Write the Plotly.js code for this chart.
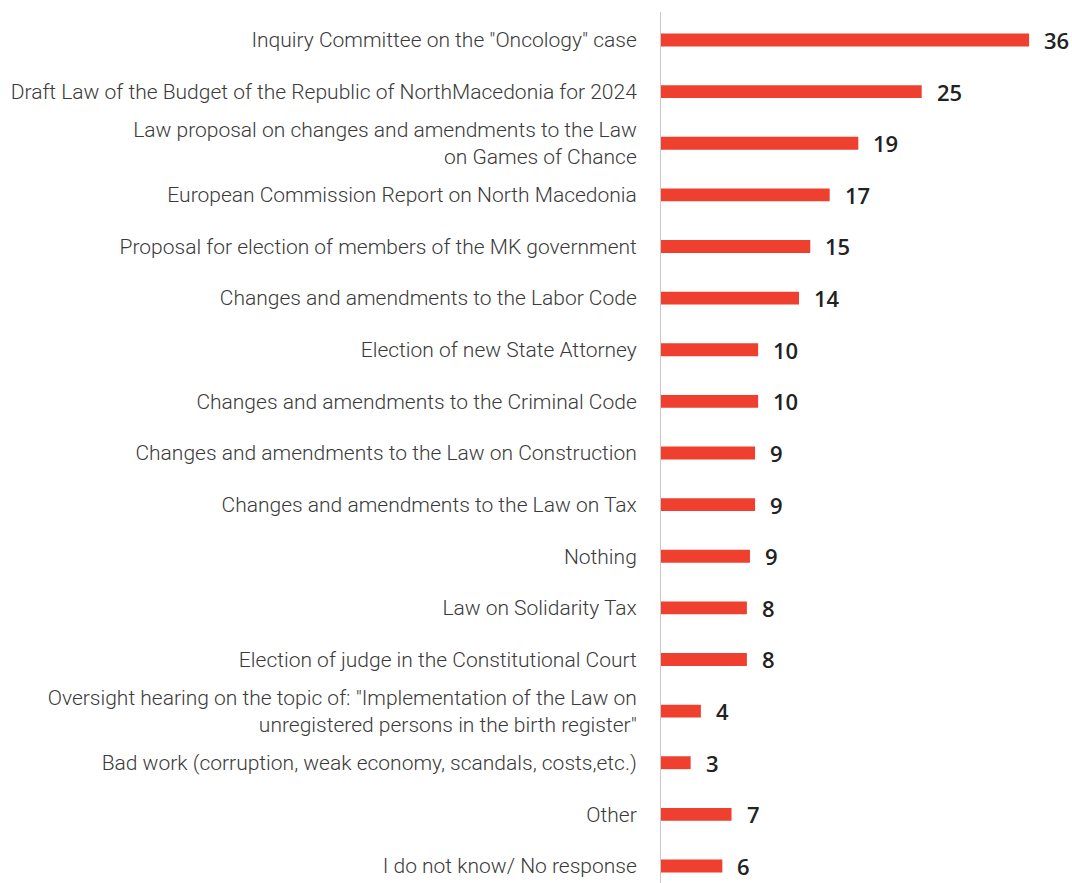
<!DOCTYPE html>
<html>
<head>
<meta charset="utf-8">
<script src="https://cdn.plot.ly/plotly-3.0.1.min.js"></script>
<style>html,body{margin:0;padding:0;background:#fff;}#chart{width:1072px;height:883px;}</style>
</head>
<body>
<div id="chart"></div>
<script>
const categories = [
  'Inquiry Committee on the "Oncology" case',
  'Draft Law of the Budget of the Republic of NorthMacedonia for 2024',
  'Law proposal on changes and amendments to the Law<br>on Games of Chance',
  'European Commission Report on North Macedonia',
  'Proposal for election of members of the MK government',
  'Changes and amendments to the Labor Code',
  'Election of new State Attorney',
  'Changes and amendments to the Criminal Code',
  'Changes and amendments to the Law on Construction',
  'Changes and amendments to the Law on Tax',
  'Nothing',
  'Law on Solidarity Tax',
  'Election of judge in the Constitutional Court',
  'Oversight hearing on the topic of: "Implementation of the Law on<br>unregistered persons in the birth register"',
  'Bad work (corruption, weak economy, scandals, costs,etc.)',
  'Other',
  'I do not know/ No response'
];
const values = [36.0, 25.5, 19.3, 16.5, 14.6, 13.5, 9.5, 9.5, 9.2, 9.2, 8.7, 8.4, 8.4, 3.9, 2.9, 6.9, 6.0];
const valueLabels = ['36','25','19','17','15','14','10','10','9','9','9','8','8','4','3','7','6'];

const trace = {
  type: 'bar',
  orientation: 'h',
  x: values,
  y: categories,
  width: 0.25,
  marker: {color: '#EE3F2F'},
  hoverinfo: 'none'
};

const annotations = values.map((v, i) => ({
  x: v, y: categories[i], xref: 'x', yref: 'y',
  text: valueLabels[i], showarrow: false,
  xanchor: 'left', yanchor: 'middle', xshift: 13,
  font: {family: 'Open Sans', size: 22, color: '#222', weight: 600}
}));

const layout = {
  width: 1072, height: 883,
  margin: {l: 661, r: 0, t: 12, b: 0, pad: 0},
  paper_bgcolor: '#fff', plot_bgcolor: '#fff',
  showlegend: false,
  xaxis: {range: [0, 40.2], visible: false, fixedrange: true},
  yaxis: {
    type: 'category',
    range: [16.33, -0.542],
    showline: true, linecolor: '#c8c8c8', linewidth: 1,
    showgrid: false, zeroline: false,
    ticks: 'outside', ticklen: 0,
    ticklabelstandoff: 19,
    tickfont: {family: 'Roboto, sans-serif', size: 21, color: '#3a3a3a', weight: 300},
    fixedrange: true
  },
  annotations: annotations
};

Plotly.newPlot('chart', [trace], layout, {displayModeBar: false, staticPlot: true});
</script>
</body>
</html>
